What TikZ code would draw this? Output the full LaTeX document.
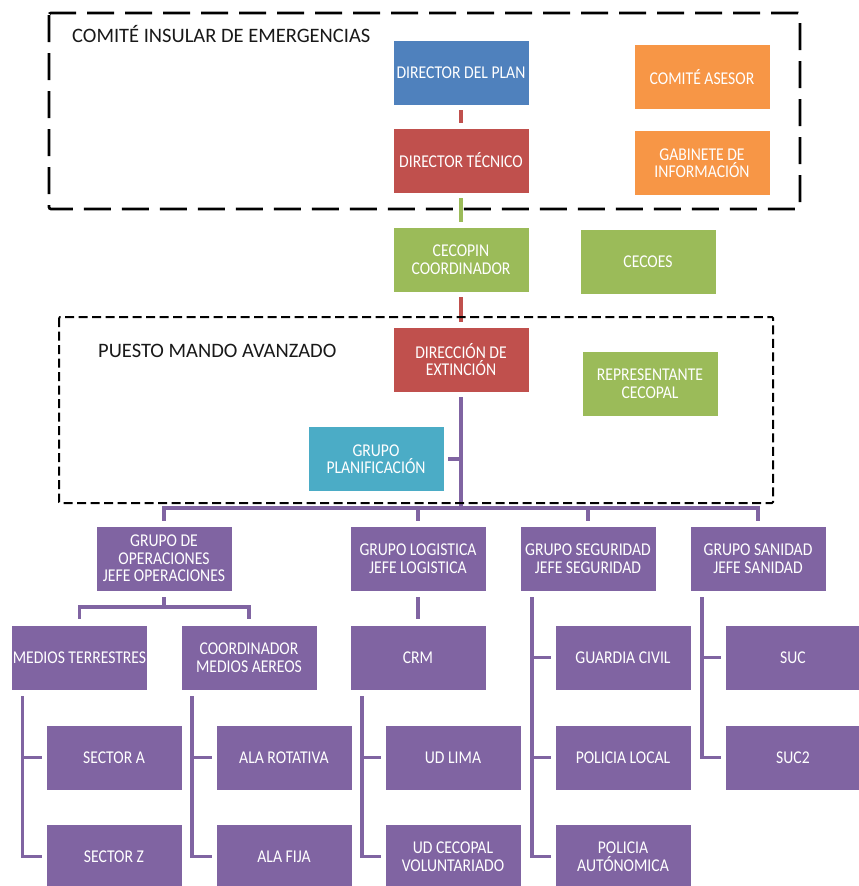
\documentclass[tikz,border=0pt]{standalone}
\usepackage{fontspec}
\setmainfont{Carlito}
\newfontfamily\boxfont[FakeStretch=0.87]{Carlito}
\usetikzlibrary{calc}
\definecolor{cblue}{HTML}{4F81BD}
\definecolor{cred}{HTML}{C0504D}
\definecolor{corange}{HTML}{F79646}
\definecolor{cgreen}{HTML}{9BBB59}
\definecolor{cteal}{HTML}{4BACC6}
\definecolor{cpurp}{HTML}{8064A2}
\tikzset{
  box/.style={rectangle, minimum width=136pt, minimum height=65pt, inner sep=0pt,
    text=white, align=center, draw=white, line width=0.5pt,
    font=\boxfont\fontsize{18}{17.5}\selectfont},
  pbox/.style={box, fill=cpurp},
  conn/.style={line width=3.5pt},
  pconn/.style={conn, draw=cpurp},
  title/.style={anchor=base west, inner sep=0pt, font=\fontsize{20.5}{24}\selectfont, text=black!90},
}
\begin{document}
\begin{tikzpicture}[x=1pt,y=-1pt]
\useasboundingbox[fill=white] (0,0) rectangle (859,886);

% top group
\node[box, fill=cblue] (dp) at (461,72.5) {DIRECTOR DEL PLAN};
\node[box, fill=cred] (dt) at (461,160.5) {DIRECTOR TÉCNICO};
\node[box, fill=corange] (ca) at (702,77) {COMITÉ ASESOR};
\node[box, fill=corange] (gi) at (702,163) {GABINETE DE\\INFORMACIÓN};
\node[box, fill=cgreen] (cc) at (461,259.5) {CECOPIN\\COORDINADOR};
\node[box, fill=cgreen] (ce) at (648,261.5) {CECOES};
\node[box, fill=cred] (de) at (461,359.5) {DIRECCIÓN DE\\EXTINCIÓN};
\node[box, fill=cgreen] (rc) at (650,383.5) {REPRESENTANTE\\CECOPAL};
\node[box, fill=cteal] (gp) at (376,459) {GRUPO\\PLANIFICACIÓN};

% row 1
\node[pbox] (go) at (164,558.5) {GRUPO DE\\OPERACIONES\\JEFE OPERACIONES};
\node[pbox] (gl) at (418,558.5) {GRUPO LOGISTICA\\JEFE LOGISTICA};
\node[pbox] (gs) at (588,558.5) {GRUPO SEGURIDAD\\JEFE SEGURIDAD};
\node[pbox] (gsa) at (758,558.5) {GRUPO SANIDAD\\JEFE SANIDAD};
% row 2
\node[pbox] (mt) at (79.5,657.5) {MEDIOS TERRESTRES};
\node[pbox] (cma) at (249,657.5) {COORDINADOR\\MEDIOS AEREOS};
\node[pbox] (crm) at (418,657.5) {CRM};
\node[pbox] (gc) at (623,657.5) {GUARDIA CIVIL};
\node[pbox] (suc) at (793,657.5) {SUC};
% row 3
\node[pbox] (sa) at (114,757.5) {SECTOR A};
\node[pbox] (ar) at (284,757.5) {ALA ROTATIVA};
\node[pbox] (ul) at (453,757.5) {UD LIMA};
\node[pbox] (pl) at (623,757.5) {POLICIA LOCAL};
\node[pbox] (suc2) at (793,757.5) {SUC2};
% row 4
\node[pbox] (sz) at (114,856.5) {SECTOR Z};
\node[pbox] (af) at (284,856.5) {ALA FIJA};
\node[pbox] (uc) at (453,856.5) {UD CECOPAL\\VOLUNTARIADO};
\node[pbox] (pa) at (623,856.5) {POLICIA\\AUTÓNOMICA};

% upper connectors
\draw[conn, draw=cred] ($(dp.south)+(0,5)$) -- ($(dt.north)+(0,-5)$);
\draw[conn, draw=cgreen] ($(dt.south)+(0,5)$) -- ($(cc.north)+(0,-5)$);
\draw[conn, draw=cred] ($(cc.south)+(0,5)$) -- ($(de.north)+(0,-5)$);

% trunk and bus
\coordinate (bus) at (461,508);
\draw[pconn] ($(de.south)+(0,5)$) -- (bus);
\draw[pconn] ($(gp.east)+(4,0)$) -- (gp.east -| de.south);
\draw[pconn] ($(go.north)+(0,-5)$) |- (bus) -| ($(gsa.north)+(0,-5)$);
\draw[pconn] ($(gl.north)+(0,-5)$) -- (gl.north |- bus);
\draw[pconn] ($(gs.north)+(0,-5)$) -- (gs.north |- bus);

% operaciones
\coordinate (opbar) at (164,607);
\draw[pconn] ($(go.south)+(0,6)$) -- (opbar);
\draw[pconn] ($(mt.north)+(0,-6)$) |- (opbar) -| ($(cma.north)+(0,-6)$);
% logistica
\draw[pconn] ($(gl.south)+(0,6)$) -- ($(crm.north)+(0,-6)$);

% side connectors
\draw[pconn] ($(mt.south west)+(11,6)$) |- ($(sz.west)+(-4,0)$);
\draw[pconn] ($(sa.west)+(-4,0)$) -- ($(sa.west -| mt.south west)+(11,0)$);
\draw[pconn] ($(cma.south west)+(11,6)$) |- ($(af.west)+(-4,0)$);
\draw[pconn] ($(ar.west)+(-4,0)$) -- ($(ar.west -| cma.south west)+(11,0)$);
\draw[pconn] ($(crm.south west)+(12,6)$) |- ($(uc.west)+(-4,0)$);
\draw[pconn] ($(ul.west)+(-4,0)$) -- ($(ul.west -| crm.south west)+(12,0)$);
\draw[pconn] ($(gs.south west)+(12,6)$) |- ($(pa.west)+(-4,0)$);
\draw[pconn] ($(gc.west)+(-4,0)$) -- ($(gc.west -| gs.south west)+(12,0)$);
\draw[pconn] ($(pl.west)+(-4,0)$) -- ($(pl.west -| gs.south west)+(12,0)$);
\draw[pconn] ($(gsa.south west)+(12,6)$) |- ($(suc2.west)+(-4,0)$);
\draw[pconn] ($(suc.west)+(-4,0)$) -- ($(suc.west -| gsa.south west)+(12,0)$);

% dashed group frames
\draw[line width=2.7pt, dash pattern=on 27pt off 11pt, rounded corners=2pt] (49,13) rectangle (800,209);
\draw[line width=2pt, dash pattern=on 9pt off 4.5pt, rounded corners=1pt] (59,317) rectangle (773,503);

\node[title] (t1) at (72,42) {COMITÉ INSULAR DE EMERGENCIAS};
\node[title] (t2) at (98,357) {PUESTO MANDO AVANZADO};
\end{tikzpicture}
\end{document}
